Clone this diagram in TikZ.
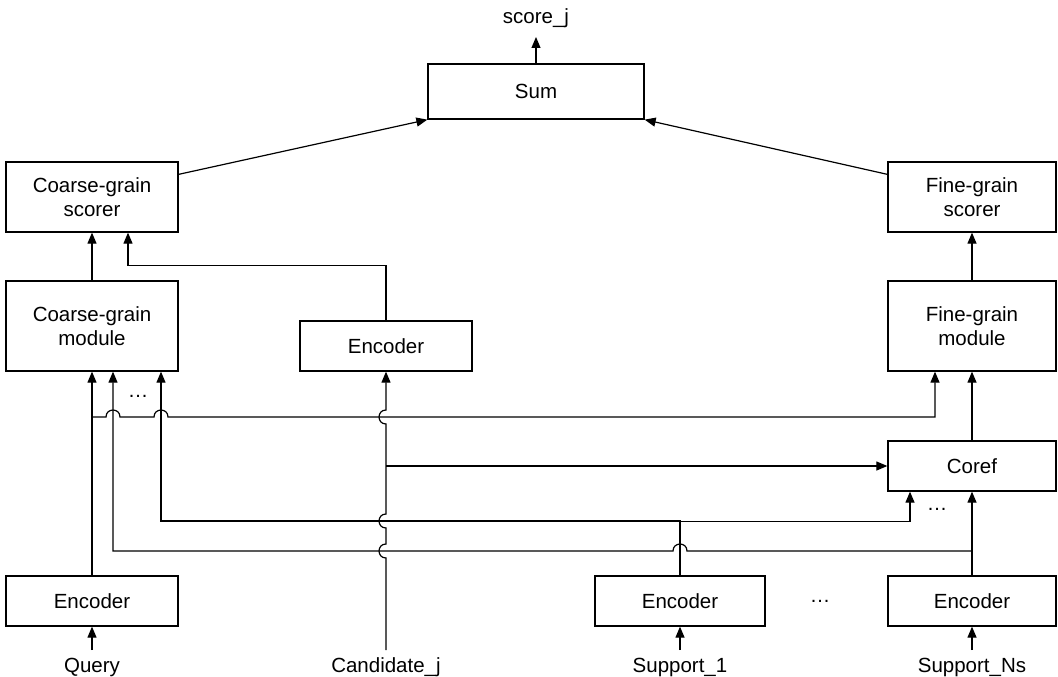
\documentclass[tikz,border=0pt]{standalone}
\usepackage{fontspec}
\setmainfont{Liberation Sans}
\usetikzlibrary{arrows.meta,calc}
\begin{document}
\begin{tikzpicture}[x=1pt,y=-1pt,
  box/.style={draw, line width=1.3pt, minimum width=172pt, minimum height=50pt, inner sep=0pt, align=center, font=\fontsize{20.5}{24}\selectfont},
  lbl/.style={inner sep=0pt, font=\fontsize{20.5}{24}\selectfont},
  wire/.style={line width=1.2pt},
  arr/.style={wire, -{Triangle[length=11pt,width=9pt]}},
]
\useasboundingbox (0,0) rectangle (1058,677);
% boxes
\node[box, minimum width=216pt, minimum height=55pt] (sum) at (536,91.5) {Sum};
\node[box, minimum height=70pt] (cscore) at (92,197) {Coarse-grain\\scorer};
\node[box, minimum width=168pt, minimum height=70pt] (fscore) at (972,197) {Fine-grain\\scorer};
\node[box, minimum height=90pt] (cmod) at (92,326) {Coarse-grain\\module};
\node[box, minimum width=168pt, minimum height=90pt] (fmod) at (972,326) {Fine-grain\\module};
\node[box] (cenc) at (386,346) {Encoder};
\node[box, minimum width=168pt] (coref) at (972,466) {Coref};
\node[box] (qenc) at (92,601) {Encoder};
\node[box, minimum width=170pt] (senc) at (680,601) {Encoder};
\node[box, minimum width=168pt] (nenc) at (972,601) {Encoder};
% labels
\node[lbl, anchor=base] (score) at (536,24) {score\_j};
\node[lbl, anchor=base] (query) at (92,672) {Query};
\node[lbl, anchor=base] (cand) at (386,672) {Candidate\_j};
\node[lbl, anchor=base] (sup1) at (680,672) {Support\_1};
\node[lbl, anchor=base] (supn) at (972,672) {Support\_Ns};
\node[lbl] (dotsA) at (138,396) {…};
\node[lbl] (dotsB) at (937,509) {…};
\node[lbl] (dotsC) at (820,601) {…};
% free ends
\coordinate (scoretip) at (536,37);
\coordinate (qin) at (92,650);
\coordinate (cin) at (386,650);
\coordinate (s1in) at (680,650);
\coordinate (snin) at (972,650);
% top
\draw[arr] (sum.north) -- (scoretip);
\draw[arr] ($(cscore.north east)+(0,13)$) -- (sum.south west);
\draw[arr] ($(fscore.north west)+(0,13)$) -- (sum.south east);
\draw[arr] (cmod.north) -- (cscore.south);
\draw[arr] (cenc.north) |- ($(cscore.south)+(36,33)$) -- ($(cscore.south)+(36,0)$);
\draw[arr] (fmod.north) -- (fscore.south);
\draw[arr] (coref.north) -- (fmod.south);
\draw[arr] (nenc.north) -- (coref.south);
\draw[arr] (qenc.north) -- (cmod.south);
% inputs
\draw[arr] (qin) -- (qenc.south);
\draw[arr] (s1in) -- (senc.south);
\draw[arr] (snin) -- (nenc.south);
% query branch to fine-grain module
\draw[arr] (92,417) -- (106,417) .. controls (106,407.7) and (120,407.7) .. (120,417)
  -- (154,417) .. controls (154,407.7) and (168,407.7) .. (168,417)
  -- (935,417) -- ($(fmod.south)+(-37,0)$);
% support_Ns branch to coarse-grain module
\draw[arr] (972,551) -- (687,551) .. controls (687,541.7) and (673,541.7) .. (673,551)
  -- (113,551) -- ($(cmod.south)+(21,0)$);
% support_1 branches
\draw[arr] (senc.north) |- (161,521) -- ($(cmod.south)+(69,0)$);
\draw[arr] (senc.north) |- ($(coref.south)+(-62,30)$) -- ($(coref.south)+(-62,0)$);
% candidate line
\draw[arr] (cin) -- (386,558) .. controls (376.7,558) and (376.7,544) .. (386,544)
  -- (386,528) .. controls (376.7,528) and (376.7,514) .. (386,514)
  -- (386,424) .. controls (376.7,424) and (376.7,410) .. (386,410)
  -- (cenc.south);
\draw[arr] (386,466) -- (coref.west);
\end{tikzpicture}
\end{document}
